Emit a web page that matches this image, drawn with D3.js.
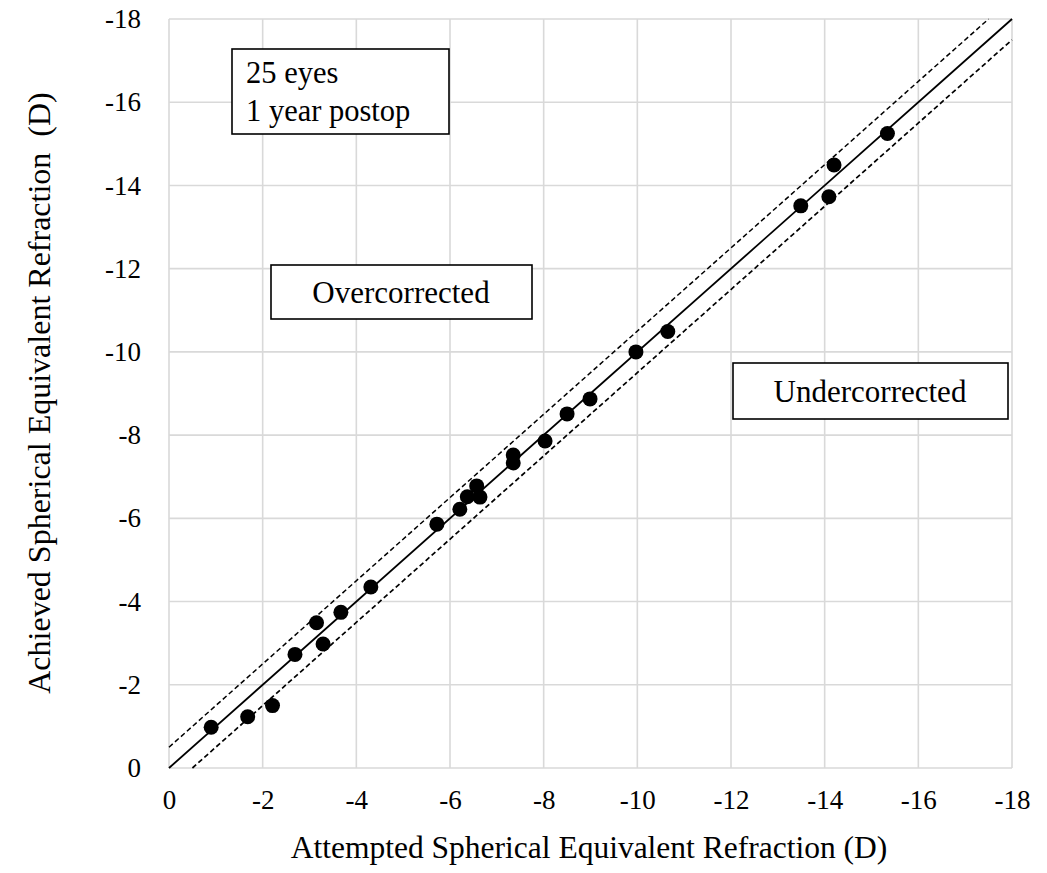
<!DOCTYPE html>
<html>
<head>
<meta charset="utf-8">
<script src="https://cdn.jsdelivr.net/npm/d3@7"></script>
<style>
  html, body { margin: 0; padding: 0; background: #fff; }
  svg { display: block; }
  svg text { font-family: "Liberation Serif", "Times New Roman", serif !important; fill: #000; }
</style>
</head>
<body>
<svg id="chart" width="1047" height="873" font-family="Liberation Serif"></svg>
<script>
// ---- data ----
const attempted = [-0.90, -1.68, -2.21, -2.69, -3.15, -3.29, -3.67, -4.31, -5.72, -6.21, -6.37, -6.57, -6.64, -7.35, -7.35, -8.03, -8.50, -8.99, -9.97, -10.65, -13.49, -14.09, -14.20, -15.34];
const achieved  = [-0.98, -1.23, -1.50, -2.73, -3.49, -2.98, -3.74, -4.35, -5.86, -6.22, -6.52, -6.78, -6.51, -7.52, -7.33, -7.86, -8.51, -8.87, -10.00, -10.49, -13.51, -13.73, -14.49, -15.25];
const tickValues = [0, -2, -4, -6, -8, -10, -12, -14, -16, -18];
const tickLabels = ["0", "-2", "-4", "-6", "-8", "-10", "-12", "-14", "-16", "-18"];
const identityLine = [[0, 0], [-18, -18]];
const upperBand = [[0, -0.5], [-17.5, -18]];
const lowerBand = [[-0.5, 0], [-18, -17.5]];
const xTitle = "Attempted Spherical Equivalent Refraction (D)";
const yTitle = "Achieved Spherical Equivalent Refraction\u00a0\u00a0(D)";
const infoLines = ["25 eyes", "1 year postop"];
const overLabel = "Overcorrected";
const underLabel = "Undercorrected";

// ---- layout ----
const pL = 169, pR = 1012, pT = 19, pB = 768;
const FONT = "Liberation Serif, Times New Roman, serif";
const svg = d3.select("#chart");
const x = d3.scaleLinear().domain([0, -18]).range([pL, pR]);
const y = d3.scaleLinear().domain([0, -18]).range([pB, pT]);

// gridlines
const grid = svg.append("g").attr("stroke", "#d9d9d9").attr("stroke-width", 1.6);
grid.selectAll("line.v").data(tickValues).join("line").attr("class", "v")
  .attr("x1", d => x(d)).attr("x2", d => x(d)).attr("y1", pT).attr("y2", pB);
grid.selectAll("line.h").data(tickValues).join("line").attr("class", "h")
  .attr("y1", d => y(d)).attr("y2", d => y(d)).attr("x1", pL).attr("x2", pR);

// axes (labels only)
const xAxis = d3.axisBottom(x).tickValues(tickValues).tickFormat((d, i) => tickLabels[i]).tickSize(0).tickPadding(22);
const gx = svg.append("g").attr("transform", `translate(0,${pB})`).call(xAxis)
  .attr("font-family", FONT).attr("font-size", 27);
gx.select(".domain").remove();
gx.selectAll("text").attr("fill", "#000");

const yAxis = d3.axisLeft(y).tickValues(tickValues).tickFormat((d, i) => tickLabels[i]).tickSize(0).tickPadding(28);
const gy = svg.append("g").attr("transform", `translate(${pL},0)`).call(yAxis)
  .attr("font-family", FONT).attr("font-size", 27);
gy.select(".domain").remove();
gy.selectAll("text").attr("fill", "#000");

// lines
const lineGen = d3.line().x(d => x(d[0])).y(d => y(d[1]));
svg.append("path").attr("d", lineGen(identityLine)).attr("stroke", "#000").attr("stroke-width", 1.8).attr("fill", "none");
svg.append("path").attr("d", lineGen(upperBand)).attr("stroke", "#000").attr("stroke-width", 1.5).attr("stroke-dasharray", "5,3").attr("fill", "none");
svg.append("path").attr("d", lineGen(lowerBand)).attr("stroke", "#000").attr("stroke-width", 1.7).attr("stroke-dasharray", "5,3").attr("fill", "none");

// points
svg.append("g").selectAll("circle").data(attempted.map((a, i) => [a, achieved[i]])).join("circle")
  .attr("cx", d => x(d[0])).attr("cy", d => y(d[1])).attr("r", 7.5).attr("fill", "#000");

// text boxes
function box(x0, y0, x1, y1) {
  svg.append("rect").attr("x", x0).attr("y", y0).attr("width", x1 - x0).attr("height", y1 - y0)
    .attr("fill", "#fff").attr("stroke", "#000").attr("stroke-width", 1.6);
}
box(232, 49, 449, 134);
svg.append("g").selectAll("text").data(infoLines).join("text")
  .attr("x", 246).attr("y", (d, i) => 83 + i * 37.5).attr("font-size", 30.5).text(d => d);

box(271, 265, 532, 319);
svg.append("text").attr("x", 401).attr("y", 303).attr("text-anchor", "middle").attr("font-size", 31).text(overLabel);

box(733, 363, 1008, 419);
svg.append("text").attr("x", 870).attr("y", 402).attr("text-anchor", "middle").attr("font-size", 31).text(underLabel);

// axis titles
svg.append("text").attr("x", 589).attr("y", 858).attr("text-anchor", "middle").attr("font-size", 31.5).text(xTitle);
svg.append("text").attr("transform", "translate(50,393) rotate(-90)").attr("text-anchor", "middle").attr("font-size", 32).text(yTitle);
</script>
</body>
</html>
